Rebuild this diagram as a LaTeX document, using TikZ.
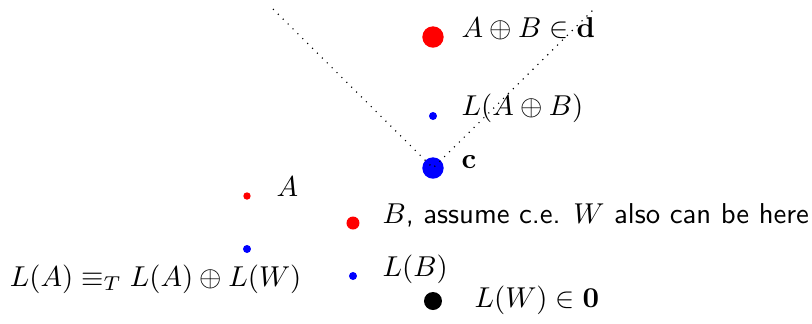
\documentclass[tikz,border=0pt]{standalone}
\newcommand{\pxu}{0.348pt}
\begin{document}
\begin{tikzpicture}[x=\pxu, y=-\pxu,
    dot/.style={circle, inner sep=0pt, minimum size=2*#1*\pxu},
    lbl/.style={anchor=base west, inner sep=0pt}]
    % 1. Khung hình
    \useasboundingbox (0,0) rectangle (812,323);

    % 2. Các điểm
    \node[dot=10.7, fill=red] (ab) at (433,37) {};
    \node[dot=4, fill=blue] (lab) at (433,116) {};
    \node[dot=10.7, fill=blue] (c) at (433,168) {};
    \node[dot=3.7, fill=red] (a) at (247,196) {};
    \node[dot=6.5, fill=red] (b) at (353,223) {};
    \node[dot=4, fill=blue] (la) at (247,249) {};
    \node[dot=4, fill=blue] (lb) at (353,276) {};
    \node[dot=9, fill=black] (lw) at (433,301) {};

    % 3. Nhãn
    \node[lbl] (abtext) at (461,37) {$A \oplus B \in \mathbf{d}$};
    \node[lbl] (labtext) at (461,115) {$L(A \oplus B)$};
    \node[lbl] (ctext) at (461,168) {$\mathbf{c}$};
    \node[lbl] (atext) at (276,196) {$A$};
    \node[lbl] (btext) at (382,223)
        {$B$\textsf{, assume c.e. }$W$\textsf{ also can be here}};
    \node[lbl, anchor=base east] (latext) at (302,286)
        {$L(A) \equiv_T L(A) \oplus L(W)$};
    \node[lbl] (lbtext) at (382,276) {$L(B)$};
    \node[lbl] (lwtext) at (474,307) {$L(W) \in \mathbf{0}$};

    % 4. Hai đường chấm
    \coordinate (tl) at (273,9);
    \coordinate (tr) at (593,10);
    \draw[dotted] (tl) -- (c.center) -- (tr);
\end{tikzpicture}
\end{document}
